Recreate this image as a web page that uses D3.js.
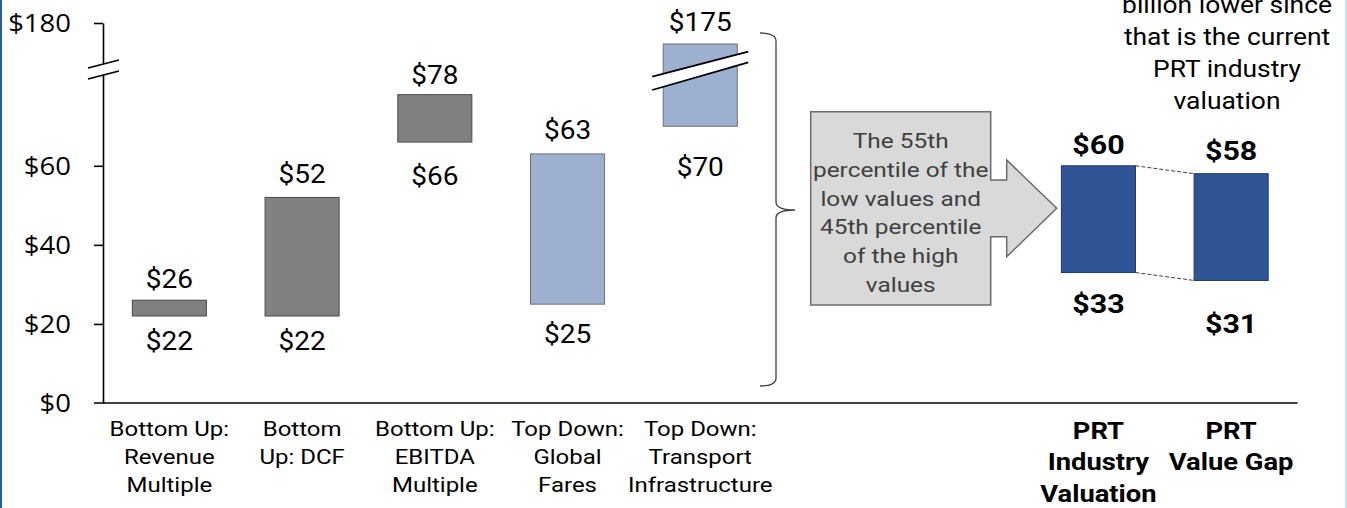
<!DOCTYPE html>
<html>
<head>
<meta charset="utf-8">
<script src="https://cdn.jsdelivr.net/npm/d3@7"></script>
<style>
  html, body { margin: 0; padding: 0; background: #fff; }
  svg { display: block; }
</style>
</head>
<body>
<svg id="chart" width="1347" height="508"></svg>
<script>
// ---------------- DATA ----------------
const categories = [
  "Bottom Up: Revenue Multiple",
  "Bottom Up: DCF",
  "Bottom Up: EBITDA Multiple",
  "Top Down: Global Fares",
  "Top Down: Transport Infrastructure",
  "PRT Industry Valuation",
  "PRT Value Gap"
];
const categoryLines = [
  ["Bottom Up:", "Revenue", "Multiple"],
  ["Bottom", "Up: DCF"],
  ["Bottom Up:", "EBITDA", "Multiple"],
  ["Top Down:", "Global", "Fares"],
  ["Top Down:", "Transport", "Infrastructure"],
  ["PRT", "Industry", "Valuation"],
  ["PRT", "Value Gap"]
];
const lowValues  = [22, 22, 66, 25, 70, 33, 31];
const highValues = [26, 52, 78, 63, 175, 60, 58];
const groups = ["bottomUp", "bottomUp", "bottomUp", "topDown", "topDown", "prt", "prt"];
const yTickValues = [0, 20, 40, 60, 180];
const calloutLines = ["The 55th", "percentile of the", "low values and", "45th percentile", "of the high", "values"];
const noteLines = ["billion lower since", "that is the current", "PRT industry", "valuation"];

// ---------------- LAYOUT / STYLE ----------------
const fills   = { bottomUp: "#808080", topDown: "#9DB0CF", prt: "#2F5597" };
const strokes = { bottomUp: "#4a4a4a", topDown: "#6f6f6f", prt: "#1F3864" };
const lowLabelDy  = [34, 34, 43, 39, 50, 40, 53];
const highLabelDy = [12, 14, 11, 15, 13, 12, 14];

const svg = d3.select("#chart");
const font = "Roboto, 'Noto Sans', sans-serif";

// text with horizontal stretch (reference glyphs are wider than tall)
function stretchedText(parent, cx, cy, lines, lineGap, opts) {
  const t = parent.append("text")
    .attr("transform", `translate(${cx},${cy}) scale(${opts.sx},1)`)
    .attr("font-family", opts.family || font)
    .attr("font-size", opts.size)
    .attr("font-weight", opts.weight || 400)
    .attr("fill", opts.fill || "#000")
    .attr("text-anchor", opts.anchor || "middle");
  lines.forEach((s, k) => t.append("tspan").attr("x", 0).attr("y", k * lineGap).text(s));
  return t;
}

// slots: 5 methods, 2 empty slots for brace & arrow, 2 PRT bars
const slots = [0, 1, 2, 3, 4, "gapA", "gapB", 5, 6].map(String);
const x = d3.scaleBand().domain(slots).range([103, 1297.5]).paddingInner(0.442).paddingOuter(0.221);
const xs = i => x(String(i));

// broken axis: piecewise linear scale
const y = d3.scaleLinear().domain([0, 86, 175, 180]).range([403, 63, 44, 23]);

// frame borders
svg.append("rect").attr("x", 0).attr("y", 0).attr("width", 2).attr("height", 508).attr("fill", "#2A5E96");
svg.append("rect").attr("x", 1345.5).attr("y", 0).attr("width", 1).attr("height", 508).attr("fill", "#A8C3E0");

// ---------------- Y AXIS ----------------
const yAxis = d3.axisLeft(y).tickValues(yTickValues).tickSize(9).tickSizeOuter(0).tickFormat("");
const gy = svg.append("g").attr("transform", "translate(103,0)").call(yAxis);
gy.select(".domain").attr("stroke", "#000").attr("stroke-width", 1.6);
gy.selectAll(".tick line").attr("stroke", "#000").attr("stroke-width", 1.6);
gy.selectAll(".tick").filter(d => d === 0).select("line").remove();
const ytl = svg.append("g");
yTickValues.forEach(v => {
  stretchedText(ytl, 71, y(v) + 9, ["$" + v], 0,
    { size: 25, sx: 1.1, anchor: "end", family: "'Open Sans', sans-serif" });
});

// axis break marks
const br = svg.append("g");
br.append("path").attr("d", "M88,68 L119,60 L119,71 L88,79 Z").attr("fill", "#fff");
br.append("line").attr("x1", 88).attr("y1", 68).attr("x2", 119).attr("y2", 60).attr("stroke", "#000").attr("stroke-width", 1.8);
br.append("line").attr("x1", 88).attr("y1", 79).attr("x2", 119).attr("y2", 71).attr("stroke", "#000").attr("stroke-width", 1.8);

// ---------------- BARS ----------------
const idx = d3.range(categories.length);
svg.append("g").selectAll("rect").data(idx).join("rect")
  .attr("x", i => xs(i))
  .attr("width", x.bandwidth())
  .attr("y", i => y(highValues[i]))
  .attr("height", i => y(lowValues[i]) - y(highValues[i]))
  .attr("fill", i => fills[groups[i]])
  .attr("stroke", i => strokes[groups[i]])
  .attr("stroke-width", 1);

// break marks on Transport Infrastructure bar
const tb = 4;
const bx0 = xs(tb) - 11, bx1 = xs(tb) + x.bandwidth() + 11;
const bg = svg.append("g");
bg.append("path").attr("d", `M${bx0},76.7 L${bx1},51.7 L${bx1},62.3 L${bx0},90 Z`).attr("fill", "#fff");
bg.append("line").attr("x1", bx0).attr("y1", 76.7).attr("x2", bx1).attr("y2", 51.7).attr("stroke", "#000").attr("stroke-width", 1.8);
bg.append("line").attr("x1", bx0).attr("y1", 90).attr("x2", bx1).attr("y2", 62.3).attr("stroke", "#000").attr("stroke-width", 1.8);

// dashed connectors between PRT bars
const c = svg.append("g").attr("stroke", "#404040").attr("stroke-width", 1).attr("stroke-dasharray", "4,2");
c.append("line").attr("x1", xs(5) + x.bandwidth()).attr("y1", y(highValues[5]))
  .attr("x2", xs(6)).attr("y2", y(highValues[6]));
c.append("line").attr("x1", xs(5) + x.bandwidth()).attr("y1", y(lowValues[5]))
  .attr("x2", xs(6)).attr("y2", y(lowValues[6]));

// ---------------- VALUE LABELS ----------------
const lab = svg.append("g");
idx.forEach(i => {
  const bold = groups[i] === "prt";
  const cx = xs(i) + x.bandwidth() / 2;
  const o = bold ? { size: 26, weight: 700, sx: 1.17 } : { size: 25, weight: 400, sx: 1.12 };
  stretchedText(lab, cx, y(highValues[i]) - highLabelDy[i], ["$" + highValues[i]], 0, o);
  stretchedText(lab, cx, y(lowValues[i]) + lowLabelDy[i], ["$" + lowValues[i]], 0, o);
});

// ---------------- X AXIS ----------------
svg.append("line").attr("x1", 94).attr("x2", x.range()[1]).attr("y1", y(0)).attr("y2", y(0))
  .attr("stroke", "#000").attr("stroke-width", 1.6);
const cl = svg.append("g");
idx.forEach(i => {
  const bold = groups[i] === "prt";
  const cx = xs(i) + x.bandwidth() / 2;
  if (bold) stretchedText(cl, cx, 439, categoryLines[i], 31.5, { size: 24, weight: 700, sx: 1.14 });
  else stretchedText(cl, cx, 436, categoryLines[i], 28, { size: 20.5, weight: 400, sx: 1.17 });
});

// ---------------- BRACE ----------------
svg.append("path")
  .attr("d", "M760,33 Q776,33 776,41 L776,202 Q776,210 795,210 Q776,210 776,218 L776,378 Q776,386 760,386")
  .attr("fill", "none").attr("stroke", "#404040").attr("stroke-width", 1.3);

// ---------------- CALLOUT ARROW ----------------
svg.append("path")
  .attr("d", "M810.7,111.7 H990.7 V180 H1006.7 V160 L1056.7,208.3 L1006.7,256.7 V236.7 H990.7 V305 H810.7 Z")
  .attr("fill", "#D9D9D9").attr("stroke", "#6b6b6b").attr("stroke-width", 1.5);
stretchedText(svg, 900.7, 148.3, calloutLines, 28.7, { size: 20, sx: 1.22, fill: "#404040" });

// ---------------- TOP-RIGHT NOTE ----------------
stretchedText(svg, 1227, 13, noteLines, 32, { size: 24, sx: 1.1 });
</script>
</body>
</html>
